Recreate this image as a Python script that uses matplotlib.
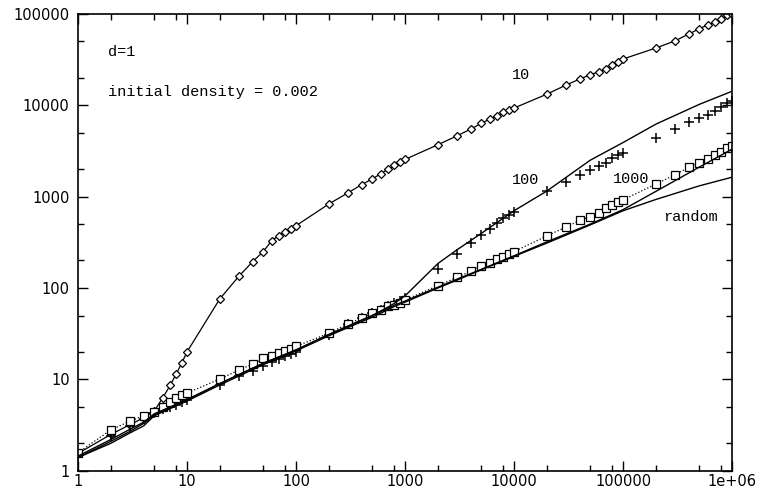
import numpy as np
import matplotlib.pyplot as plt
from matplotlib.ticker import LogLocator, FixedLocator, NullFormatter

# time points used by the simulation output
t_data = [1, 2, 3, 4, 5, 6, 7, 8, 9, 10,
          20, 30, 40, 50, 60, 70, 80, 90, 100,
          200, 300, 400, 500, 600, 700, 800, 900, 1000,
          2000, 3000, 4000, 5000, 6000, 7000, 8000, 9000, 10000,
          20000, 30000, 40000, 50000, 60000, 70000, 80000, 90000, 100000,
          200000, 300000, 400000, 500000, 600000, 700000, 800000, 900000, 1000000]

# diamonds, "10"
y_10 = [1.55, 2.5, 3.2, 3.8, 4.5, 6.3, 8.6, 11.6, 15.3, 20,
        76, 135, 194, 250, 330, 375, 410, 445, 480,
        830, 1100, 1350, 1560, 1780, 2000, 2200, 2400, 2550,
        3690, 4620, 5470, 6320, 7060, 7660, 8320, 8800, 9300,
        13200, 16600, 19300, 21500, 23300, 24900, 27400, 30000, 32000,
        42200, 50500, 60000, 68400, 76000, 81500, 88500, 96000, 100000]

# plus markers, "100"
y_100 = [1.5, 2.4, 3.1, 3.7, 4.3, 4.7, 5.0, 5.3, 5.6, 5.9,
         8.8, 10.8, 12.5, 14, 15.5, 16.8, 18, 19, 20,
         31, 40, 47, 53, 58, 63, 68, 73, 78,
         161, 237, 310, 382, 447, 512, 582, 630, 680,
         1140, 1460, 1740, 1960, 2140, 2320, 2640, 2850, 3030,
         4430, 5500, 6530, 7200, 7850, 8700, 9440, 10500, 11000]

# squares, "1000"
y_1000 = [1.58, 2.8, 3.5, 4.0, 4.4, 5.0, 5.6, 6.2, 6.7, 7.1,
          10.1, 12.7, 14.7, 17, 18, 19.5, 20.5, 21.5, 23,
          32, 40.5, 47, 53, 58, 64, 65.5, 69, 74,
          106, 131, 152, 175, 190, 207, 221, 235, 250,
          372, 464, 548, 604, 670, 748, 813, 870, 922,
          1370, 1735, 2090, 2360, 2580, 2840, 3100, 3360, 3540]

# smooth curves
t_curve = [1, 2, 3, 4, 5, 10, 20, 50, 100, 200, 500, 700, 800, 1000,
           2000, 3000, 5000, 10000, 20000, 50000, 100000, 200000, 500000, 1000000]
c_100 = [1.45, 2.2, 2.85, 3.4, 4.2, 6.0, 9.0, 15, 21, 31, 50, 62, 68, 82,
         185, 262, 395, 700, 1150, 2500, 3900, 6200, 10200, 14200]
c_1000 = [1.4, 2.1, 2.7, 3.3, 4.1, 6.0, 9.0, 15, 21, 31, 50, 60, 65, 72,
          102, 125, 160, 225, 320, 500, 720, 1140, 2100, 3300]
c_rand = [1.4, 2.0, 2.6, 3.1, 4.0, 5.8, 8.7, 14.5, 20.5, 30, 48, 58, 63, 70,
          100, 122, 158, 222, 310, 490, 700, 930, 1310, 1630]

fig = plt.figure(figsize=(7.57, 4.92), dpi=100)
ax = fig.add_axes([0.103, 0.043, 0.864, 0.929])
ax.set_xscale('log')
ax.set_yscale('log')

ax.plot(t_data, y_10, color='k', lw=0.9, marker='D', markersize=4.2,
        markerfacecolor='white', markeredgewidth=0.9)
ax.plot(t_data, y_100, color='k', lw=0, marker='+', markersize=6.5,
        markeredgewidth=1.1)
ax.plot(t_data, y_1000, color='k', lw=0.9, ls=':', marker='s', markersize=6,
        markerfacecolor='white', markeredgewidth=0.9)
ax.plot(t_curve, c_100, color='k', lw=1.0)
ax.plot(t_curve, c_1000, color='k', lw=1.0)
ax.plot(t_curve, c_rand, color='k', lw=1.0)

ax.set_xlim(1, 1e6)
ax.set_ylim(1, 1e5)

xmaj = [1, 10, 100, 1000, 10000, 100000, 1000000]
xlab = ['1', '10', '100', '1000', '10000', '100000', '1e+06']
ymaj = [1, 10, 100, 1000, 10000, 100000]
ylab = ['1', '10', '100', '1000', '10000', '100000']
ax.xaxis.set_major_locator(FixedLocator(xmaj))
ax.set_xticklabels(xlab)
ax.yaxis.set_major_locator(FixedLocator(ymaj))
ax.set_yticklabels(ylab)
ax.xaxis.set_minor_locator(LogLocator(base=10, subs=(2, 5, 8)))
ax.yaxis.set_minor_locator(LogLocator(base=10, subs=(2, 5)))
ax.xaxis.set_minor_formatter(NullFormatter())
ax.yaxis.set_minor_formatter(NullFormatter())
ax.tick_params(which='both', direction='in', top=True, right=True,
               labelsize=10.5)
ax.tick_params(axis='x', pad=2)
ax.tick_params(axis='y', pad=6)
ax.tick_params(which='major', length=7, width=1)
ax.tick_params(which='minor', length=4, width=1)
for s in ax.spines.values():
    s.set_linewidth(1.2)

mono = 'Liberation Mono'
ax.text(1.9, 38000, 'd=1', family=mono, fontsize=11, va='center')
ax.text(1.9, 14000, 'initial density = 0.002', family=mono, fontsize=11, va='center')
ax.text(9600, 21500, '10', family=mono, fontsize=11, va='center')
ax.text(9600, 1520, '100', family=mono, fontsize=11, va='center')
ax.text(81000, 1560, '1000', family=mono, fontsize=11, va='center')
ax.text(234000, 600, 'random', family=mono, fontsize=11, va='center')

fig.savefig('out.png', dpi=100)
